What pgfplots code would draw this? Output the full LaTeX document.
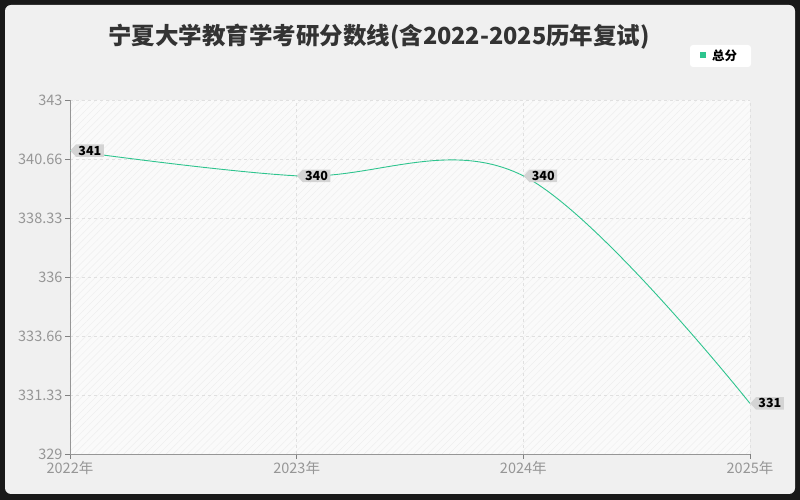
\documentclass[border=0pt]{standalone}
\usepackage{fontspec}
\setmainfont{Noto Sans CJK SC}
\usepackage{pgfplots}
\pgfplotsset{compat=1.18}
\usetikzlibrary{shapes.symbols,patterns.meta}

\definecolor{frame}{RGB}{25,25,25}
\definecolor{panel}{RGB}{240,240,240}
\definecolor{plotbg}{RGB}{250,250,250}
\definecolor{hatch}{RGB}{238,238,238}
\definecolor{series}{RGB}{46,196,142}
\definecolor{tick}{RGB}{150,150,150}
\definecolor{gridc}{RGB}{224,224,224}
\definecolor{tagbg}{RGB}{212,212,212}
\definecolor{titlec}{RGB}{51,51,51}

\begin{document}
\begin{tikzpicture}
% page: 1pt = 1px, origin bottom left
\fill[frame] (0pt,0pt) rectangle (800pt,500pt);
\fill[panel, rounded corners=6pt] (5pt,6pt) rectangle (795pt,495pt);

\node[font=\bfseries\fontsize{23.5}{27}\selectfont, text=titlec] at (379pt,463pt)
  {宁夏大学教育学考研分数线(含2022-2025历年复试)};

% legend
\fill[white, rounded corners=3pt] (690pt,433pt) rectangle (751pt,455pt);
\fill[series] (700pt,442pt) rectangle (705.5pt,447.5pt);
\node[anchor=west, font=\bfseries\fontsize{12.5}{14}\selectfont, inner sep=0pt] at (712pt,444.5pt) {总分};

\begin{axis}[
    at={(70pt,46pt)}, anchor=south west,
    width=680pt, height=354pt, scale only axis,
    xmin=2022, xmax=2025, ymin=329, ymax=343,
    clip=false,
    axis x line*=bottom, axis y line*=left,
    axis line style={tick, line width=0.8pt},
    axis background/.style={fill=plotbg,
      postaction={pattern={Lines[angle=45,distance=5pt,line width=0.5pt]}, pattern color=hatch}},
    xtick={2022,2023,2024,2025},
    xticklabels={2022年,2023年,2024年,2025年},
    ytick={329,331.33,333.66,336,338.33,340.66,343},
    yticklabels={329,331.33,333.66,336,338.33,340.66,343},
    tick align=outside, major tick length=5pt,
    tick style={tick, line width=0.8pt},
    ticklabel style={text=tick, font=\fontsize{14.5}{16}\selectfont},
    xticklabel style={yshift=1pt},
    yticklabel style={xshift=1pt},
    xmajorgrids, ymajorgrids,
    major grid style={gridc, dashed, line width=0.8pt},
]
\addplot[series, line width=0.9pt, smooth, tension=0.6] coordinates {
    (2022,341) (2023,340) (2024,340) (2025,331)
};
\addplot[draw=none, point meta=y,
    nodes near coords={\pgfmathprintnumber[fixed, precision=0, assume math mode=true]{\pgfplotspointmeta}},
    nodes near coords style={
        anchor=west, signal, signal to=west, signal pointer angle=95,
        fill=tagbg, inner xsep=2.5pt, inner ysep=1.5pt,
        font=\bfseries\fontsize{12.5}{14}\selectfont, text=black}] coordinates {
    (2022,341) (2023,340) (2024,340) (2025,331)
};
\end{axis}
\end{tikzpicture}
\end{document}
